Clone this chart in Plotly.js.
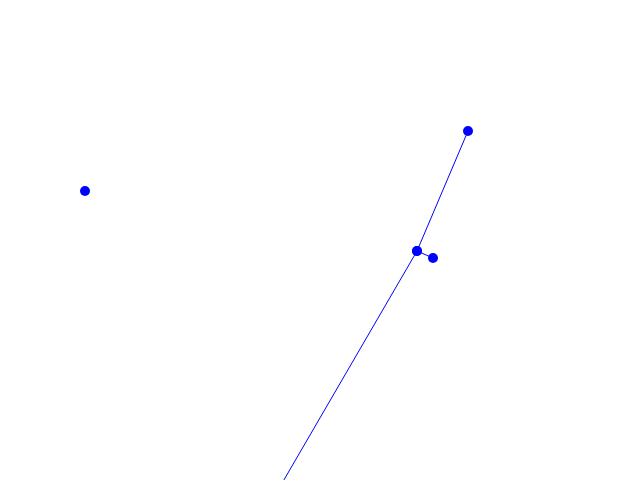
<!DOCTYPE html>
<html>
<head>
<meta charset="utf-8">
<script src="https://cdn.plot.ly/plotly-3.0.1.min.js"></script>
<style>html,body{margin:0;padding:0;background:#fff;}#chart{width:640px;height:480px;}</style>
</head>
<body>
<div id="chart"></div>
<script>
// Path points (null = gap between segments)
var xValues = [249, 417, 468, null, 417, 433, null, 85];
var yValues = [-60, 229, 349, null, 229, 222, null, 289];

var trace = {
  x: xValues,
  y: yValues,
  mode: 'lines+markers',
  type: 'scatter',
  connectgaps: false,
  line: {color: '#0000ff', width: 1},
  marker: {color: '#0000ff', size: 10},
  hoverinfo: 'none'
};

var hiddenAxis = {
  showgrid: false, zeroline: false, showticklabels: false,
  showline: false, ticks: '', fixedrange: true
};

var layout = {
  width: 640, height: 480,
  margin: {l: 0, r: 0, t: 0, b: 0},
  paper_bgcolor: '#ffffff',
  plot_bgcolor: '#ffffff',
  showlegend: false,
  xaxis: Object.assign({range: [0, 640]}, hiddenAxis),
  yaxis: Object.assign({range: [0, 480]}, hiddenAxis)
};

Plotly.newPlot('chart', [trace], layout, {displayModeBar: false, staticPlot: true});
</script>
</body>
</html>
